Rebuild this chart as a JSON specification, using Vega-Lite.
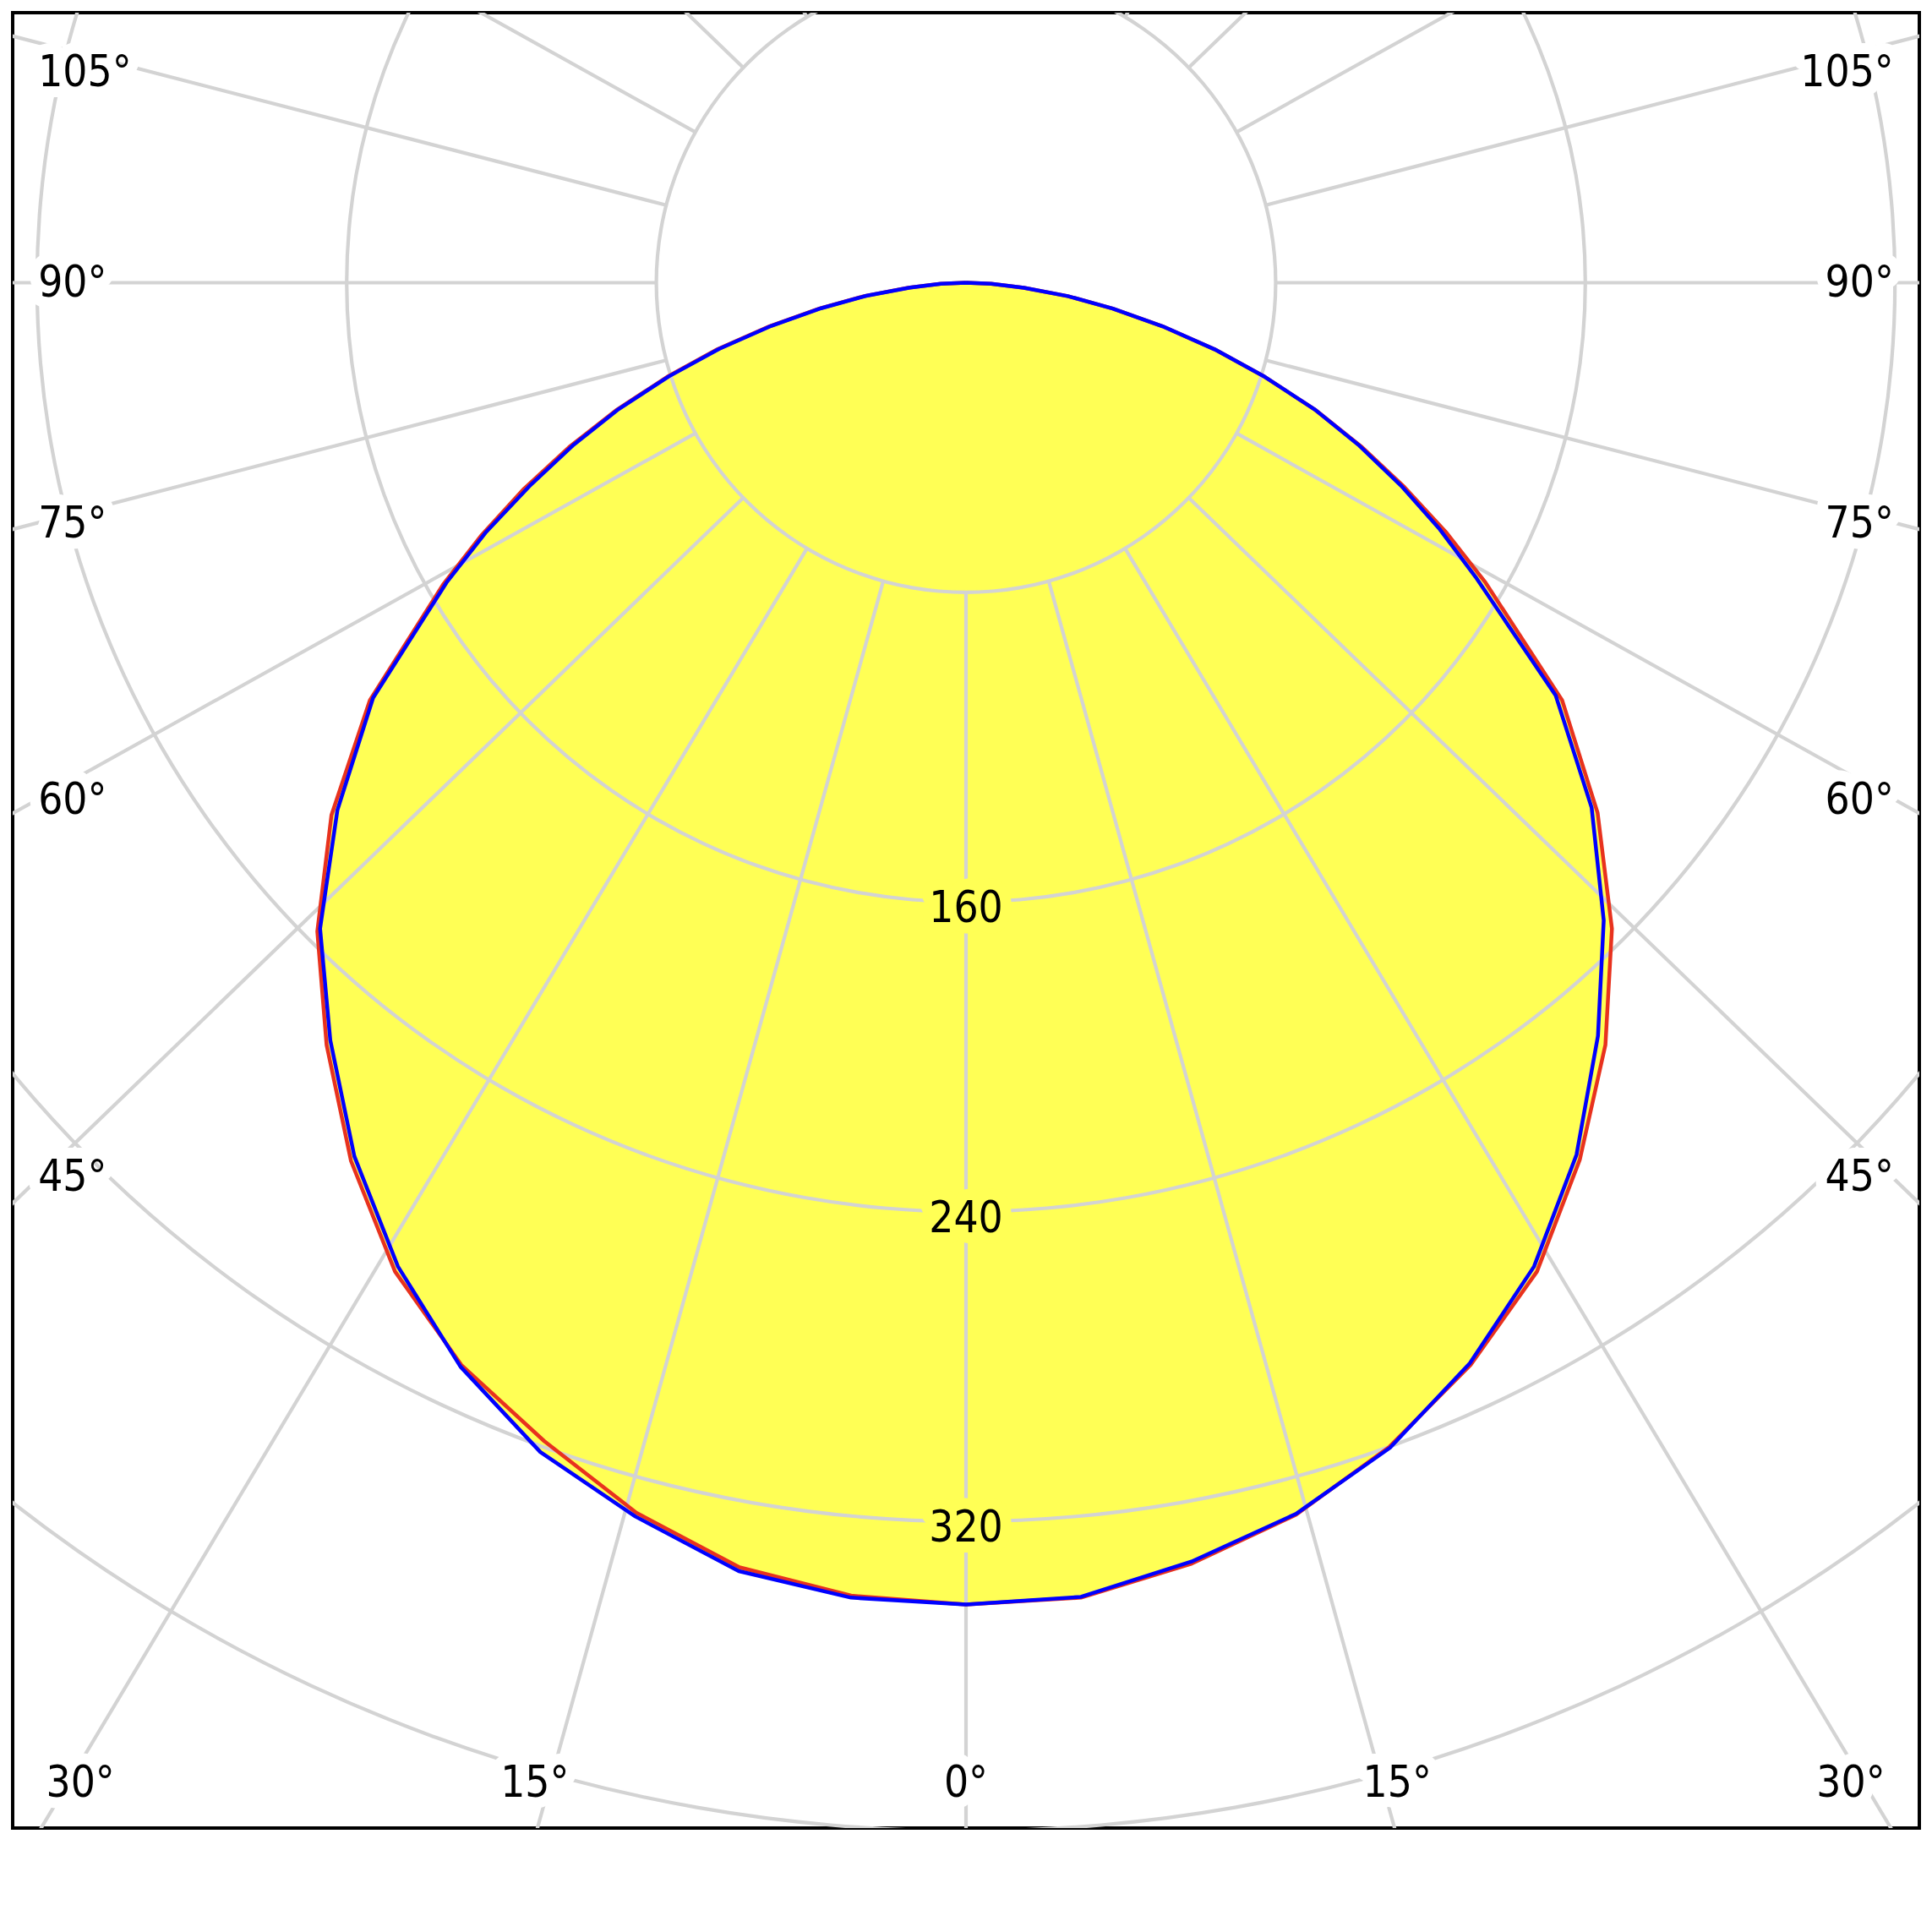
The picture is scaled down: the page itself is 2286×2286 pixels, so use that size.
{
  "$schema": "https://vega.github.io/schema/vega-lite/v6.json",
  "width": 2256,
  "height": 2148,
  "autosize": {"type": "none"},
  "padding": {"left": 15, "top": 15, "right": 15, "bottom": 123},
  "background": "white",
  "config": {"view": {"stroke": "black", "strokeWidth": 4}},
  "datasets": {
    "red": [
      {"a": -90, "I": 0}, {"a": -87.5, "I": 6.5}, {"a": -85, "I": 15}, {"a": -82.5, "I": 26.5}, {"a": -80, "I": 38.5},
      {"a": -77.5, "I": 52}, {"a": -75, "I": 66.5}, {"a": -72.5, "I": 81}, {"a": -70, "I": 96}, {"a": -67.5, "I": 111},
      {"a": -65, "I": 126}, {"a": -62.5, "I": 141}, {"a": -60, "I": 156}, {"a": -55, "I": 188}, {"a": -50, "I": 214}, {"a": -45, "I": 237},
      {"a": -40, "I": 257}, {"a": -35, "I": 277}, {"a": -30, "I": 295}, {"a": -25, "I": 308.5}, {"a": -20, "I": 318.5},
      {"a": -15, "I": 329}, {"a": -10, "I": 337}, {"a": -5, "I": 340.5}, {"a": 0, "I": 341.5}, {"a": 5, "I": 341},
      {"a": 10, "I": 336}, {"a": 15, "I": 329.5}, {"a": 20, "I": 320}, {"a": 25, "I": 308.5}, {"a": 30, "I": 295},
      {"a": 35, "I": 276.5}, {"a": 40, "I": 257}, {"a": 45, "I": 236}, {"a": 50, "I": 213}, {"a": 55, "I": 188},
      {"a": 60, "I": 155}, {"a": 62.5, "I": 140}, {"a": 65, "I": 125}, {"a": 67.5, "I": 110.5}, {"a": 70, "I": 96},
      {"a": 72.5, "I": 81}, {"a": 75, "I": 66.5}, {"a": 77.5, "I": 52}, {"a": 80, "I": 38.5}, {"a": 82.5, "I": 26.5},
      {"a": 85, "I": 15}, {"a": 87.5, "I": 6.5}, {"a": 90, "I": 0}
    ],
    "blue": [
      {"a": -90, "I": 0}, {"a": -87.5, "I": 6.5}, {"a": -85, "I": 14.5}, {"a": -82.5, "I": 26}, {"a": -80, "I": 38},
      {"a": -77.5, "I": 51.5}, {"a": -75, "I": 66}, {"a": -72.5, "I": 80.5}, {"a": -70, "I": 95.5}, {"a": -67.5, "I": 110},
      {"a": -65, "I": 124.5}, {"a": -62.5, "I": 140}, {"a": -60, "I": 155}, {"a": -55, "I": 187}, {"a": -50, "I": 212}, {"a": -45, "I": 236},
      {"a": -40, "I": 255.5}, {"a": -35, "I": 275.5}, {"a": -30, "I": 293.5}, {"a": -25, "I": 309}, {"a": -20, "I": 321.5},
      {"a": -15, "I": 330}, {"a": -10, "I": 338}, {"a": -5, "I": 341}, {"a": 0, "I": 341.5}, {"a": 5, "I": 340.8},
      {"a": 10, "I": 335.5}, {"a": 15, "I": 329.3}, {"a": 20, "I": 320.3}, {"a": 25, "I": 308}, {"a": 30, "I": 293.5},
      {"a": 35, "I": 275}, {"a": 40, "I": 254}, {"a": 45, "I": 233}, {"a": 50, "I": 211}, {"a": 55, "I": 186},
      {"a": 60, "I": 152}, {"a": 62.5, "I": 138}, {"a": 65, "I": 124}, {"a": 67.5, "I": 110}, {"a": 70, "I": 96},
      {"a": 72.5, "I": 81}, {"a": 75, "I": 66.5}, {"a": 77.5, "I": 52}, {"a": 80, "I": 38.5}, {"a": 82.5, "I": 26.5},
      {"a": 85, "I": 15}, {"a": 87.5, "I": 6.5}, {"a": 90, "I": 0}
    ],
    "rings": [
      {"ring": 80, "a": [0,5,10,15,20,25,30,35,40,45,50,55,60,65,70,75,80,85,90,95,100,105,110,115,120,125,130,135,140,145,150,155,160,165,170,175,180,185,190,195,200,205,210,215,220,225,230,235,240,245,250,255,260,265,270,275,280,285,290,295,300,305,310,315,320,325,330,335,340,345,350,355]},
      {"ring": 160, "a": [0,5,10,15,20,25,30,35,40,45,50,55,60,65,70,75,80,85,90,95,100,105,110,115,120,125,130,135,140,145,150,155,160,165,170,175,180,185,190,195,200,205,210,215,220,225,230,235,240,245,250,255,260,265,270,275,280,285,290,295,300,305,310,315,320,325,330,335,340,345,350,355]},
      {"ring": 240, "a": [0,5,10,15,20,25,30,35,40,45,50,55,60,65,70,75,80,85,90,95,100,105,110,115,120,125,130,135,140,145,150,155,160,165,170,175,180,185,190,195,200,205,210,215,220,225,230,235,240,245,250,255,260,265,270,275,280,285,290,295,300,305,310,315,320,325,330,335,340,345,350,355]},
      {"ring": 320, "a": [0,5,10,15,20,25,30,35,40,45,50,55,60,65,70,75,80,85,90,95,100,105,110,115,120,125,130,135,140,145,150,155,160,165,170,175,180,185,190,195,200,205,210,215,220,225,230,235,240,245,250,255,260,265,270,275,280,285,290,295,300,305,310,315,320,325,330,335,340,345,350,355]},
      {"ring": 400, "a": [0,5,10,15,20,25,30,35,40,45,50,55,60,65,70,75,80,85,90,95,100,105,110,115,120,125,130,135,140,145,150,155,160,165,170,175,180,185,190,195,200,205,210,215,220,225,230,235,240,245,250,255,260,265,270,275,280,285,290,295,300,305,310,315,320,325,330,335,340,345,350,355]}
    ],
    "spokes": [
      {"a": -164.5, "r": [80, 520]}, {"a": -149.1, "r": [80, 520]}, {"a": -134, "r": [80, 520]}, {"a": -119.1, "r": [80, 520]},
      {"a": -104.5, "r": [80, 520]}, {"a": -90, "r": [80, 520]}, {"a": -75.5, "r": [80, 520]}, {"a": -60.9, "r": [80, 520]},
      {"a": -46, "r": [80, 520]}, {"a": -30.9, "r": [80, 520]}, {"a": -15.5, "r": [80, 520]}, {"a": 0, "r": [80, 520]},
      {"a": 15.5, "r": [80, 520]}, {"a": 30.9, "r": [80, 520]}, {"a": 46, "r": [80, 520]}, {"a": 60.9, "r": [80, 520]},
      {"a": 75.5, "r": [80, 520]}, {"a": 90, "r": [80, 520]}, {"a": 104.5, "r": [80, 520]}, {"a": 119.1, "r": [80, 520]},
      {"a": 134, "r": [80, 520]}, {"a": 149.1, "r": [80, 520]}, {"a": 164.5, "r": [80, 520]}, {"a": 180, "r": [80, 520]}
    ],
    "leftLabels": [
      {"label": "105°", "x": -239.7, "y": 54.7},
      {"label": "90°", "x": -239.7, "y": 0.3},
      {"label": "75°", "x": -239.7, "y": -61.9},
      {"label": "60°", "x": -239.7, "y": -133.3},
      {"label": "45°", "x": -239.7, "y": -230.7}
    ],
    "rightLabels": [
      {"label": "105°", "x": 239.7, "y": 54.7},
      {"label": "90°", "x": 239.7, "y": 0.3},
      {"label": "75°", "x": 239.7, "y": -61.9},
      {"label": "60°", "x": 239.7, "y": -133.3},
      {"label": "45°", "x": 239.7, "y": -230.7}
    ],
    "bottomLabels": [
      {"label": "30°", "x": -228.8, "y": -387.2},
      {"label": "15°", "x": -111.4, "y": -387.2},
      {"label": "0°", "x": 0, "y": -387.2},
      {"label": "15°", "x": 111.4, "y": -387.2},
      {"label": "30°", "x": 228.6, "y": -387.2}
    ],
    "ringLabels": [
      {"label": "160", "x": 0, "y": -160},
      {"label": "240", "x": 0, "y": -240},
      {"label": "320", "x": 0, "y": -320}
    ]
  },
  "encoding": {
    "x": {"field": "x", "type": "quantitative", "scale": {"domain": [-246.29, 246.29], "nice": false, "zero": false}, "axis": null},
    "y": {"field": "y", "type": "quantitative", "scale": {"domain": [-399.24, 69.76], "nice": false, "zero": false}, "axis": null}
  },
  "layer": [
    {
      "data": {"name": "red"},
      "transform": [
        {"calculate": "datum.I * sin(datum.a * PI / 180)", "as": "x"},
        {"calculate": "-datum.I * cos(datum.a * PI / 180)", "as": "y"}
      ],
      "mark": {"type": "line", "filled": true, "fill": "#ffff55", "strokeWidth": 0, "clip": true},
      "encoding": {"order": {"field": "a", "type": "quantitative"}}
    },
    {
      "data": {"name": "blue"},
      "transform": [
        {"calculate": "datum.I * sin(datum.a * PI / 180)", "as": "x"},
        {"calculate": "-datum.I * cos(datum.a * PI / 180)", "as": "y"}
      ],
      "mark": {"type": "line", "filled": true, "fill": "#ffff55", "strokeWidth": 0, "clip": true},
      "encoding": {"order": {"field": "a", "type": "quantitative"}}
    },
    {
      "data": {"name": "rings"},
      "transform": [
        {"flatten": ["a"]},
        {"calculate": "datum.ring * sin(datum.a * PI / 180)", "as": "x"},
        {"calculate": "-datum.ring * cos(datum.a * PI / 180)", "as": "y"}
      ],
      "mark": {"type": "line", "color": "#d3d3d3", "strokeWidth": 4.2, "interpolate": "cardinal-closed", "tension": 0, "clip": true},
      "encoding": {
        "detail": {"field": "ring", "type": "nominal"},
        "order": {"field": "a", "type": "quantitative"}
      }
    },
    {
      "data": {"name": "spokes"},
      "transform": [
        {"flatten": ["r"]},
        {"calculate": "datum.r * sin(datum.a * PI / 180)", "as": "x"},
        {"calculate": "-datum.r * cos(datum.a * PI / 180)", "as": "y"}
      ],
      "mark": {"type": "line", "color": "#d3d3d3", "strokeWidth": 4.2, "clip": true},
      "encoding": {
        "detail": {"field": "a", "type": "nominal"},
        "order": {"field": "r", "type": "quantitative"}
      }
    },
    {
      "data": {"name": "red"},
      "transform": [
        {"calculate": "datum.I * sin(datum.a * PI / 180)", "as": "x"},
        {"calculate": "-datum.I * cos(datum.a * PI / 180)", "as": "y"}
      ],
      "mark": {"type": "line", "color": "#e8321e", "strokeWidth": 4.5, "strokeJoin": "round", "clip": true},
      "encoding": {"order": {"field": "a", "type": "quantitative"}}
    },
    {
      "data": {"name": "blue"},
      "transform": [
        {"calculate": "datum.I * sin(datum.a * PI / 180)", "as": "x"},
        {"calculate": "-datum.I * cos(datum.a * PI / 180)", "as": "y"}
      ],
      "mark": {"type": "line", "color": "#0000ff", "strokeWidth": 4.5, "strokeJoin": "round", "clip": true},
      "encoding": {"order": {"field": "a", "type": "quantitative"}}
    },
    {
      "data": {"name": "ringLabels"},
      "mark": {"type": "text", "font": "DejaVu Sans Condensed", "fontSize": 51, "align": "center", "baseline": "middle", "dy": 9, "stroke": "#ffff55", "strokeWidth": 26, "strokeJoin": "round", "fill": "#ffff55"},
      "encoding": {"text": {"field": "label"}}
    },
    {
      "data": {"name": "ringLabels"},
      "mark": {"type": "text", "font": "DejaVu Sans Condensed", "fontSize": 51, "align": "center", "baseline": "middle", "dy": 9, "color": "black"},
      "encoding": {"text": {"field": "label"}}
    },
    {
      "data": {"name": "leftLabels"},
      "mark": {"type": "text", "font": "DejaVu Sans Condensed", "fontSize": 51, "align": "left", "baseline": "middle", "dy": 3, "stroke": "white", "strokeWidth": 26, "strokeJoin": "round", "fill": "white"},
      "encoding": {"text": {"field": "label"}}
    },
    {
      "data": {"name": "leftLabels"},
      "mark": {"type": "text", "font": "DejaVu Sans Condensed", "fontSize": 51, "align": "left", "baseline": "middle", "dy": 3, "color": "black"},
      "encoding": {"text": {"field": "label"}}
    },
    {
      "data": {"name": "rightLabels"},
      "mark": {"type": "text", "font": "DejaVu Sans Condensed", "fontSize": 51, "align": "right", "baseline": "middle", "dy": 3, "stroke": "white", "strokeWidth": 26, "strokeJoin": "round", "fill": "white"},
      "encoding": {"text": {"field": "label"}}
    },
    {
      "data": {"name": "rightLabels"},
      "mark": {"type": "text", "font": "DejaVu Sans Condensed", "fontSize": 51, "align": "right", "baseline": "middle", "dy": 3, "color": "black"},
      "encoding": {"text": {"field": "label"}}
    },
    {
      "data": {"name": "bottomLabels"},
      "mark": {"type": "text", "font": "DejaVu Sans Condensed", "fontSize": 51, "align": "center", "baseline": "middle", "dy": 3, "stroke": "white", "strokeWidth": 26, "strokeJoin": "round", "fill": "white"},
      "encoding": {"text": {"field": "label"}}
    },
    {
      "data": {"name": "bottomLabels"},
      "mark": {"type": "text", "font": "DejaVu Sans Condensed", "fontSize": 51, "align": "center", "baseline": "middle", "dy": 3, "color": "black"},
      "encoding": {"text": {"field": "label"}}
    }
  ]
}
